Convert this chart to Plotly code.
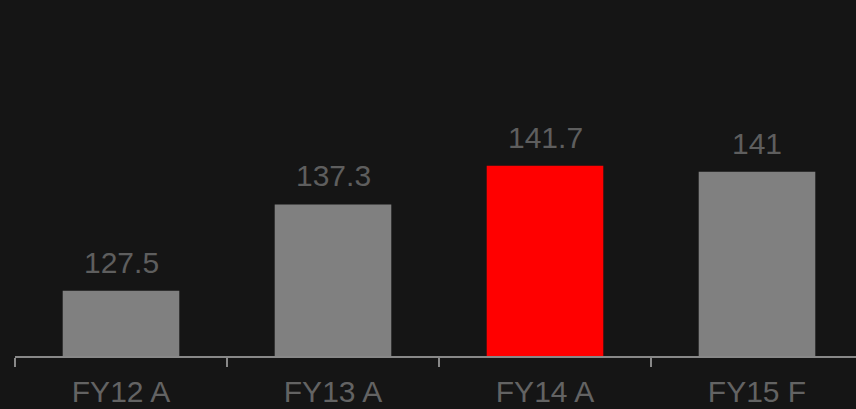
import plotly.graph_objects as go

categories = ["FY12 A", "FY13 A", "FY14 A", "FY15 F"]
values = [127.5, 137.3, 141.7, 141]
label_texts = ["127.5", "137.3", "141.7", "141"]
bar_colors = ["#808080", "#808080", "#ff0000", "#808080"]

fig = go.Figure()
fig.add_trace(go.Bar(
    x=categories, y=values, marker_color=bar_colors,
    marker_line_width=0, width=0.55, hoverinfo="skip",
))

for c, v, t in zip(categories, values, label_texts):
    fig.add_annotation(x=c, y=v, text=t, showarrow=False, yanchor="bottom",
                       yshift=10, font=dict(family="Liberation Sans, Arial", size=30, color="#5e5e5e"))

fig.update_layout(
    width=856, height=409,
    margin=dict(l=15, r=0, t=0, b=53),
    paper_bgcolor="#151515", plot_bgcolor="#151515",
    showlegend=False,
    bargap=0.45,
    font=dict(family="Liberation Sans, Arial", color="#666666"),
)
fig.update_xaxes(
    type="category", range=[-0.5, 3.467], automargin=False,
    showline=True, linecolor="#888888", linewidth=1.5,
    ticks="outside", tickson="boundaries", ticklen=9, tickcolor="#888888", tickwidth=1.5,
    tickfont=dict(size=30, color="#636363"), ticklabelstandoff=8,
    showgrid=False, zeroline=False, fixedrange=True,
)
fig.update_yaxes(range=[120.1, 160.5], visible=False, showgrid=False, zeroline=False)

fig.write_html(
    "out.html",
    config={"displayModeBar": False},
    post_script="document.body.style.margin='0';document.body.style.background='#151515';document.body.style.overflow='hidden';",
)
